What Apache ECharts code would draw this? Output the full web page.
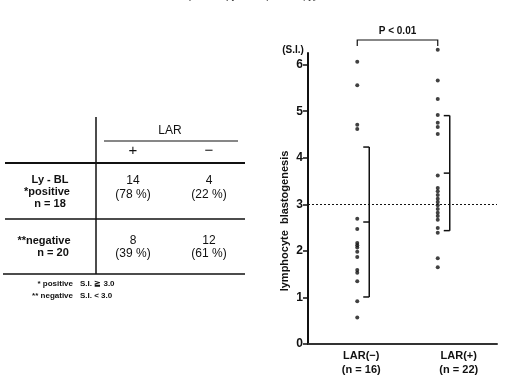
<!DOCTYPE html>
<html>
<head>
<meta charset="utf-8">
<script src="https://cdn.jsdelivr.net/npm/echarts@6/dist/echarts.min.js"></script>
<style>
  html, body { margin: 0; padding: 0; background: #fff; }
  #chart { width: 507px; height: 377px; }
</style>
</head>
<body>
<div id="chart"></div>
<script>
// dot plot data
const groups = ['LAR(−)', 'LAR(+)'];
const groupN = [16, 22];
const larNeg = [6.06, 5.56, 4.71, 4.62, 2.69, 2.47, 2.17, 2.12, 2.07, 1.98, 1.87, 1.59, 1.53, 1.35, 0.92, 0.57];
const larPos = [6.32, 5.66, 5.26, 4.92, 4.75, 4.66, 4.51, 3.62, 3.35, 3.28, 3.2, 3.12, 3.05, 2.98, 2.9, 2.82, 2.75, 2.67, 2.49, 2.39, 1.84, 1.65];
const groupMean = [2.62, 3.67];
const groupSD = [1.61, 1.235];
const cutoff = 3.0;
const pLabel = 'P < 0.01';
const yMin = 0, yMax = 6.25, yStep = 1;

// table data
const tableCols = ['+', '−'];
const posCounts = [14, 4];
const posPct = [78, 22];
const negCounts = [8, 12];
const negPct = [39, 61];
const rowPosLabel = ['Ly - BL', '*positive', 'n = 18'];
const rowNegLabel = ['**negative', 'n = 20'];
const notes = [['* positive', 'S.I. ≧ 3.0'], ['** negative', 'S.I. < 3.0']];
const author = ['木', '村', '和', '陽'];

const ink = '#111';
const font = '"Liberation Sans", Arial, sans-serif';
const dotShift = [2, -12];
const bracketShift = [14, 0];

const chart = echarts.init(document.getElementById('chart'));

function txt(x, y, text, size, align, weight) {
  return {
    type: 'text', x: x, y: y, silent: true,
    style: {
      text: text, fill: ink, font: (weight || 'bold') + ' ' + size + 'px ' + font,
      textAlign: align || 'center', textVerticalAlign: 'middle'
    }
  };
}
function ln(x1, y1, x2, y2, w) {
  return { type: 'line', silent: true, shape: { x1, y1, x2, y2 }, style: { stroke: ink, lineWidth: w || 1.5 } };
}

const colX = [133, 209];
const graphics = [
  ln(96, 117, 96, 274, 1.5),
  ln(104, 141, 238, 141, 1.2),
  ln(5, 163, 245, 163, 2),
  ln(5, 219, 245, 219, 1.5),
  ln(3, 274, 245, 274, 1.5),
  txt(170, 131, 'LAR', 12, 'center', '500'),
  txt(50, 180, rowPosLabel[0], 11),
  txt(47, 192, rowPosLabel[1], 11),
  txt(50, 204, rowPosLabel[2], 11),
  txt(44, 241, rowNegLabel[0], 11),
  txt(53, 253, rowNegLabel[1], 11)
];
tableCols.forEach((c, i) => {
  graphics.push(txt(colX[i], 151, c, 15, 'center', '500'));
  graphics.push(txt(colX[i], 181, String(posCounts[i]), 12, 'center', '500'));
  graphics.push(txt(colX[i], 195, '(' + posPct[i] + ' %)', 12, 'center', '500'));
  graphics.push(txt(colX[i], 241, String(negCounts[i]), 12, 'center', '500'));
  graphics.push(txt(colX[i], 254, '(' + negPct[i] + ' %)', 12, 'center', '500'));
});
notes.forEach((n, i) => {
  graphics.push(txt(73, 284 + i * 12, n[0], 8, 'right'));
  graphics.push(txt(80, 284 + i * 12, n[1], 8, 'left'));
});
author.forEach((a, i) => {
  graphics.push(txt(190 + i * 40, -5, a, 14, 'center', 'normal'));
});
graphics.push(txt(293, 50, '(S.I.)', 10, 'center'));
graphics.push({
  type: 'text', x: 285, y: 221, rotation: Math.PI / 2, silent: true,
  style: { text: 'lymphocyte  blastogenesis', fill: ink, font: 'bold 11px ' + font, textAlign: 'center', textVerticalAlign: 'middle' }
});

function renderBracket(params, api) {
  const i = api.value(0);
  const m = api.value(1), s = api.value(2);
  const x = api.coord([i, m])[0] + bracketShift[i];
  const yT = api.coord([i, m + s])[1];
  const yM = api.coord([i, m])[1];
  const yB = api.coord([i, m - s])[1];
  const st = { stroke: ink, lineWidth: 1.5 };
  return {
    type: 'group',
    children: [
      { type: 'line', shape: { x1: x, y1: yT, x2: x, y2: yB }, style: st },
      { type: 'line', shape: { x1: x - 6, y1: yT, x2: x, y2: yT }, style: st },
      { type: 'line', shape: { x1: x - 6, y1: yM, x2: x, y2: yM }, style: st },
      { type: 'line', shape: { x1: x - 6, y1: yB, x2: x, y2: yB }, style: st }
    ]
  };
}

function renderP(params, api) {
  const x1 = api.coord([0, yMax])[0] + dotShift[0];
  const x2 = api.coord([1, yMax])[0] + dotShift[1];
  const y = api.coord([0, yMax])[1] - 13;
  const st = { stroke: ink, lineWidth: 1.2 };
  return {
    type: 'group',
    children: [
      { type: 'polyline', shape: { points: [[x1, y + 6], [x1, y], [x2, y], [x2, y + 6]] }, style: Object.assign({ fill: null }, st) },
      { type: 'text', style: { x: (x1 + x2) / 2, y: y - 9, text: pLabel, fill: ink, font: 'bold 10px ' + font, textAlign: 'center', textVerticalAlign: 'middle' } }
    ]
  };
}

chart.setOption({
  animation: false,
  backgroundColor: '#fff',
  graphic: graphics,
  grid: { left: 308, right: 10, top: 53, bottom: 33 },
  xAxis: {
    type: 'category',
    data: groups,
    axisTick: { show: false },
    axisLine: { lineStyle: { color: '#333', width: 2 } },
    axisLabel: {
      margin: 5,
      interval: 0,
      formatter: (v, idx) => {
        const k = idx === 0 ? 'a' : 'b';
        return '{' + k + '|' + v + '}\n{' + k + '|(n = ' + groupN[idx] + ')}';
      },
      rich: {
        a: { fontFamily: font, fontWeight: 'bold', fontSize: 11, color: ink, lineHeight: 14, padding: [0, 0, 0, 12] },
        b: { fontFamily: font, fontWeight: 'bold', fontSize: 11, color: ink, lineHeight: 14, padding: [0, 0, 0, 18] }
      }
    }
  },
  yAxis: {
    type: 'value',
    min: yMin, max: yMax, interval: yStep,
    splitLine: { show: false },
    axisLine: { show: true, lineStyle: { color: ink, width: 2 } },
    axisTick: { show: true, length: 5, lineStyle: { color: ink, width: 1.5 } },
    axisLabel: { color: ink, fontFamily: font, fontWeight: 'bold', fontSize: 12, margin: 5, showMaxLabel: false }
  },
  series: [
    {
      type: 'scatter',
      data: larNeg.map(v => [0, v]),
      symbolSize: 4,
      symbolOffset: [dotShift[0], 0],
      clip: false,
      itemStyle: { color: ink },
      markLine: {
        silent: true,
        symbol: 'none',
        label: { show: false },
        lineStyle: { color: ink, type: [2, 2], width: 1 },
        data: [{ yAxis: cutoff }]
      }
    },
    {
      type: 'scatter',
      data: larPos.map(v => [1, v]),
      symbolSize: 4,
      symbolOffset: [dotShift[1], 0],
      clip: false,
      itemStyle: { color: ink }
    },
    {
      type: 'custom',
      renderItem: renderBracket,
      data: groups.map((g, i) => [i, groupMean[i], groupSD[i]]),
      z: 3
    },
    {
      type: 'custom',
      renderItem: renderP,
      clip: false,
      data: [[0, yMax]],
      z: 3
    }
  ]
});
</script>
</body>
</html>
